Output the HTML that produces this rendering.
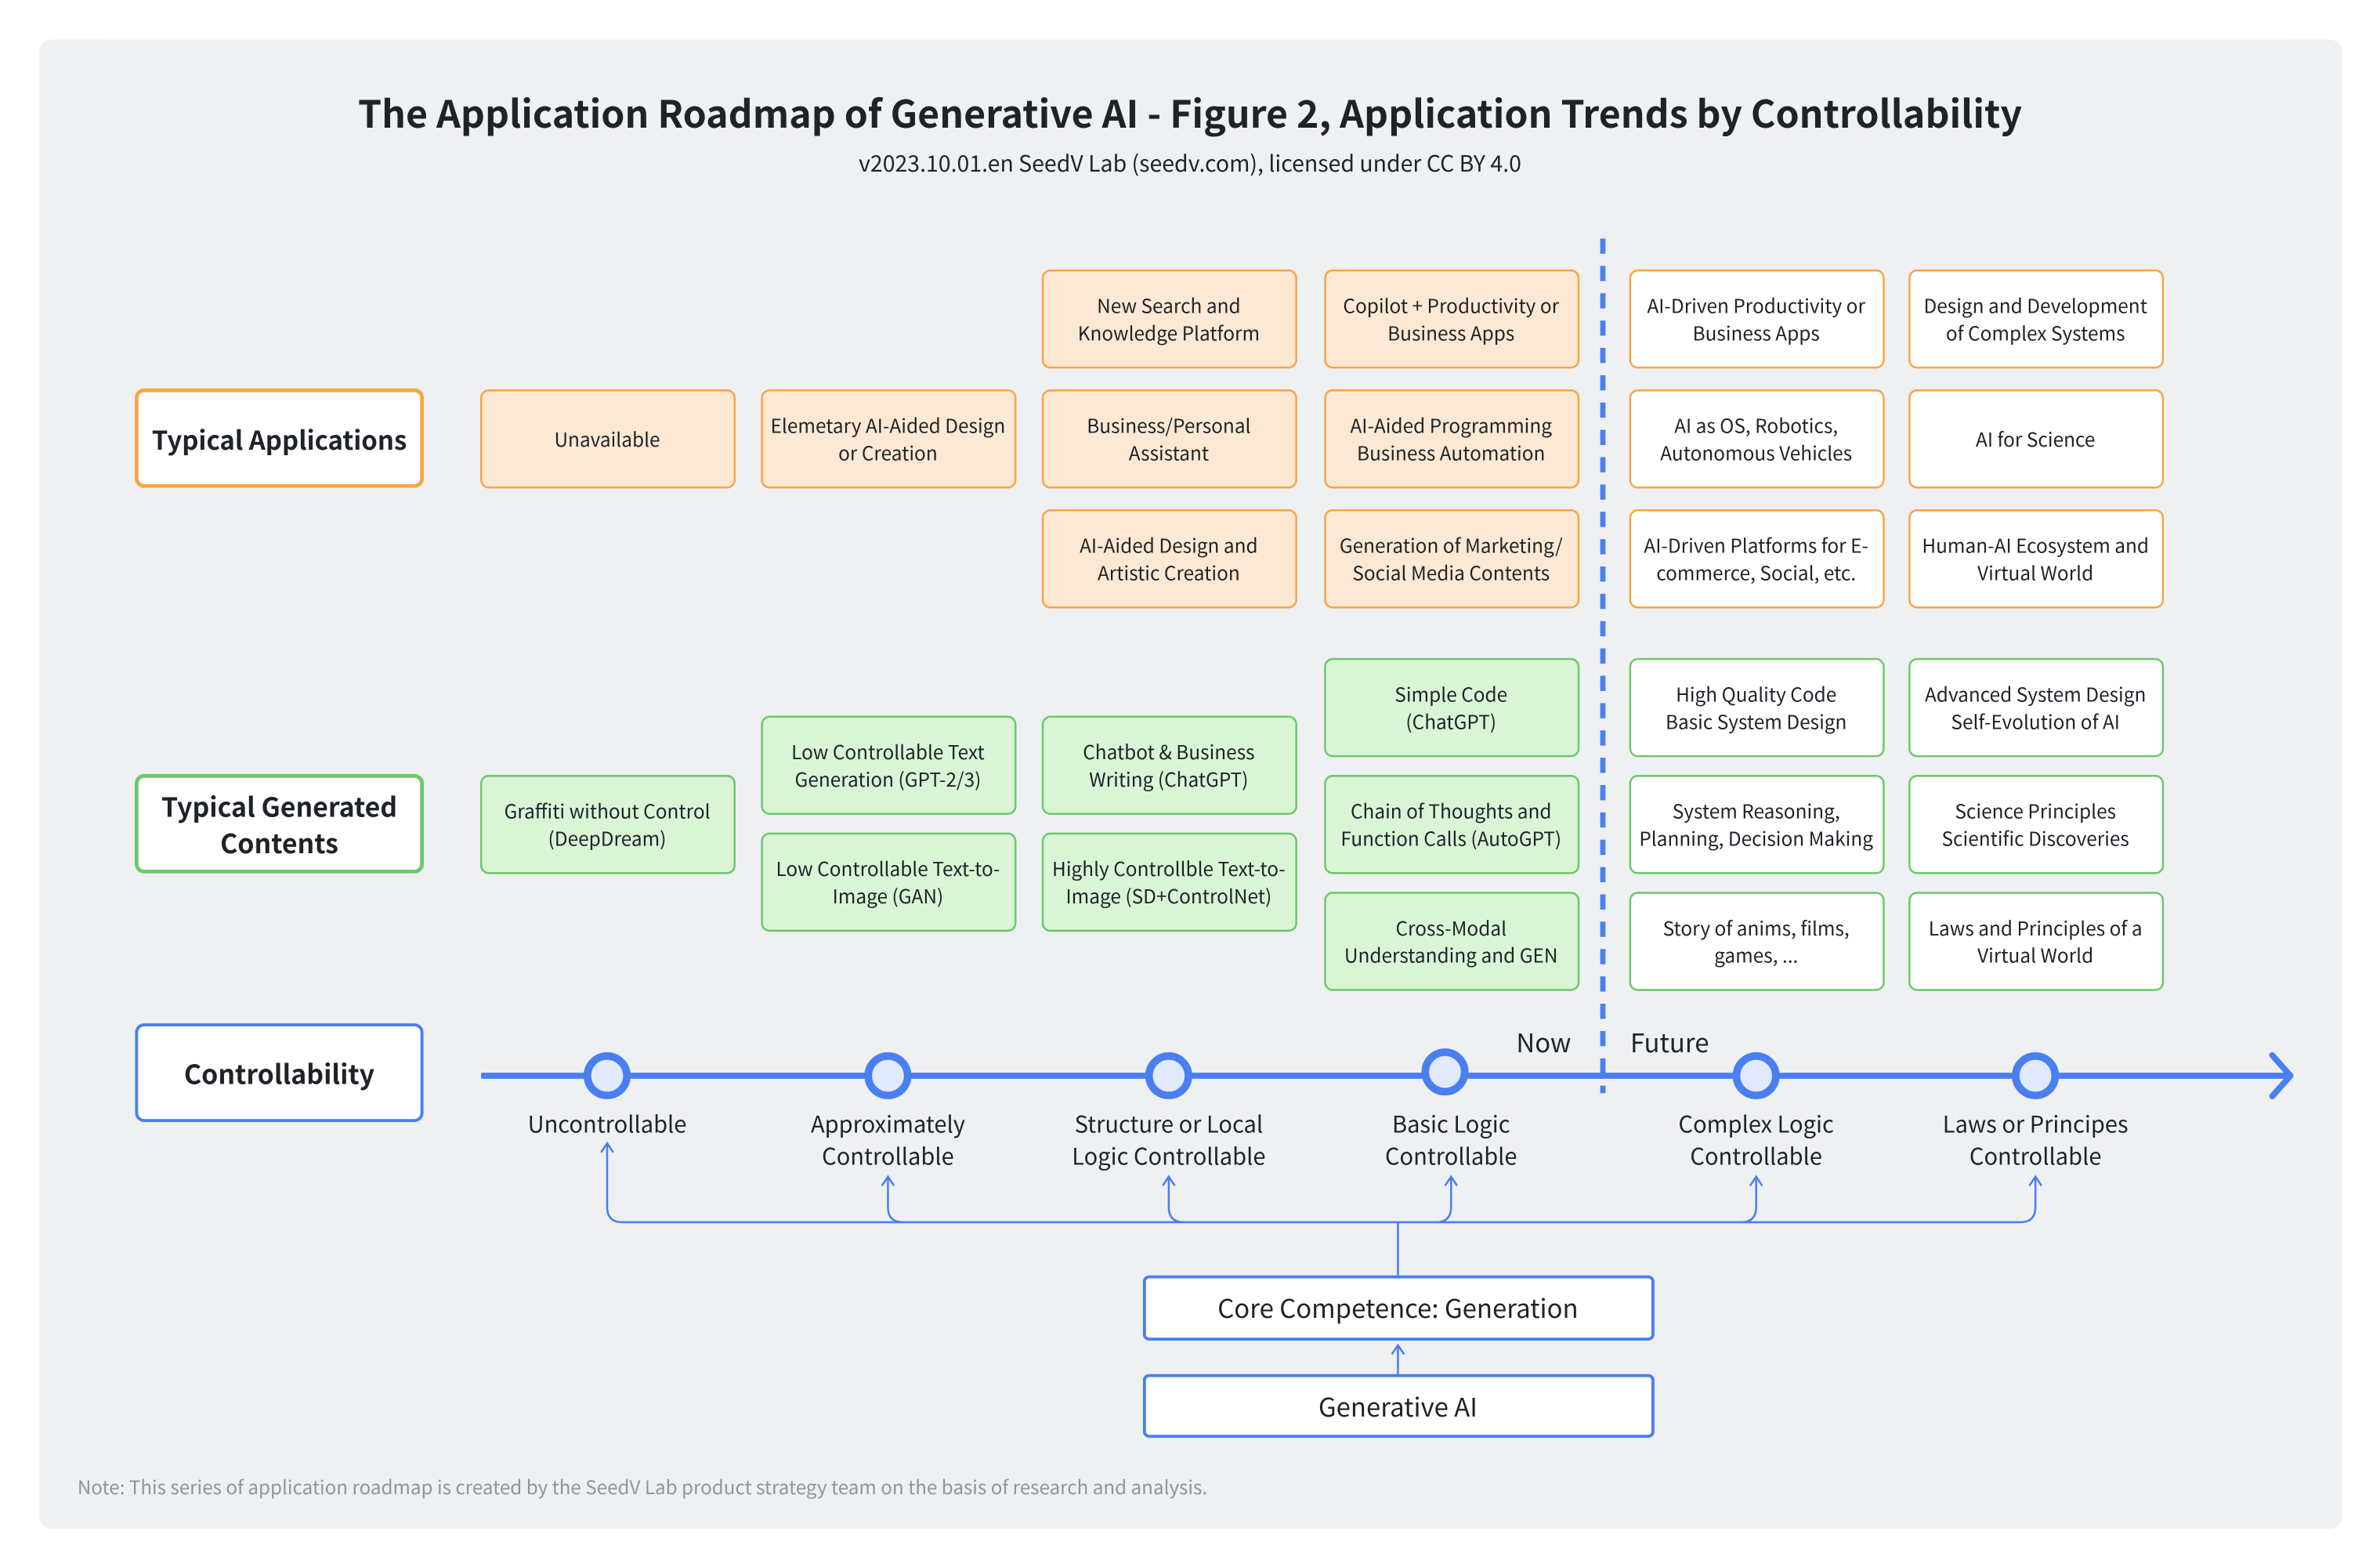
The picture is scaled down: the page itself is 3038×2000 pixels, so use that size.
<!DOCTYPE html>
<html><head><meta charset="utf-8"><style>
html,body{margin:0;padding:0;background:#fff}
svg{display:block}
text{font-family:"Noto Sans CJK SC","Liberation Sans",sans-serif;fill:#1f2329}
.b{font-size:12.6px;text-anchor:middle}
.l{font-size:15px;text-anchor:middle}
.h{font-size:17.5px;font-weight:bold;text-anchor:middle}
.o{fill:#fde9d3;stroke:#f7a647;stroke-width:1.3}
.ow{fill:#fff;stroke:#f7a647;stroke-width:1.3}
.g{fill:#d9f5d6;stroke:#6cc96c;stroke-width:1.3}
.gw{fill:#fff;stroke:#6cc96c;stroke-width:1.3}
</style></head><body>
<svg width="3038" height="2000" viewBox="0 0 1568 1032" xmlns="http://www.w3.org/2000/svg">
<rect x="0" y="0" width="1568" height="1032" fill="#fff"/>
<rect x="26" y="26" width="1517" height="981" rx="8" fill="#eff0f2"/>
<text x="784" y="84" style="font-size:24.9px;font-weight:bold;text-anchor:middle">The Application Roadmap of Generative AI - Figure 2, Application Trends by Controllability</text>
<text x="784" y="113" style="font-size:14.7px;text-anchor:middle">v2023.10.01.en SeedV Lab (seedv.com), licensed under CC BY 4.0</text>

<rect x="90" y="257" width="188" height="63" rx="5" fill="#fff" stroke="#f7a647" stroke-width="2.5"/>
<text class="h" x="184" y="296" style="font-size:17px">Typical Applications</text>
<rect x="90" y="511" width="188" height="63" rx="5" fill="#fff" stroke="#6cc96c" stroke-width="2.5"/>
<text class="h" x="184" y="538">Typical Generated</text>
<text class="h" x="184" y="562">Contents</text>
<rect x="90" y="675" width="188" height="63" rx="5" fill="#fff" stroke="#4a7ff2" stroke-width="2"/>
<text class="h" x="184" y="714">Controllability</text>

<rect class="o" x="317" y="257" width="167" height="64" rx="5"/><text class="b" x="400" y="294">Unavailable</text>
<rect class="o" x="502" y="257" width="167" height="64" rx="5"/><text class="b" x="585" y="285">Elemetary AI-Aided Design</text><text class="b" x="585" y="303">or Creation</text>

<rect class="o" x="687" y="178" width="167" height="64" rx="5"/><text class="b" x="770" y="206">New Search and</text><text class="b" x="770" y="224">Knowledge Platform</text>
<rect class="o" x="687" y="257" width="167" height="64" rx="5"/><text class="b" x="770" y="285">Business/Personal</text><text class="b" x="770" y="303">Assistant</text>
<rect class="o" x="687" y="336" width="167" height="64" rx="5"/><text class="b" x="770" y="364">AI-Aided Design and</text><text class="b" x="770" y="382">Artistic Creation</text>

<rect class="o" x="873" y="178" width="167" height="64" rx="5"/><text class="b" x="956" y="206">Copilot + Productivity or</text><text class="b" x="956" y="224">Business  Apps</text>
<rect class="o" x="873" y="257" width="167" height="64" rx="5"/><text class="b" x="956" y="285">AI-Aided Programming</text><text class="b" x="956" y="303">Business Automation</text>
<rect class="o" x="873" y="336" width="167" height="64" rx="5"/><text class="b" x="956" y="364">Generation of Marketing/</text><text class="b" x="956" y="382">Social Media Contents</text>

<rect class="ow" x="1074" y="178" width="167" height="64" rx="5"/><text class="b" x="1157" y="206">AI-Driven Productivity or</text><text class="b" x="1157" y="224">Business Apps</text>
<rect class="ow" x="1074" y="257" width="167" height="64" rx="5"/><text class="b" x="1157" y="285">AI as OS, Robotics,</text><text class="b" x="1157" y="303">Autonomous Vehicles</text>
<rect class="ow" x="1074" y="336" width="167" height="64" rx="5"/><text class="b" x="1157" y="364">AI-Driven Platforms for E-</text><text class="b" x="1157" y="382">commerce, Social, etc.</text>

<rect class="ow" x="1258" y="178" width="167" height="64" rx="5"/><text class="b" x="1341" y="206">Design and Development</text><text class="b" x="1341" y="224">of Complex Systems</text>
<rect class="ow" x="1258" y="257" width="167" height="64" rx="5"/><text class="b" x="1341" y="294">AI for Science</text>
<rect class="ow" x="1258" y="336" width="167" height="64" rx="5"/><text class="b" x="1341" y="364">Human-AI Ecosystem and</text><text class="b" x="1341" y="382">Virtual World</text>

<rect class="g" x="317" y="511" width="167" height="64" rx="5"/><text class="b" x="400" y="539">Graffiti without Control</text><text class="b" x="400" y="557">(DeepDream)</text>
<rect class="g" x="502" y="472" width="167" height="64" rx="5"/><text class="b" x="585" y="500">Low Controllable Text</text><text class="b" x="585" y="518">Generation (GPT-2/3)</text>
<rect class="g" x="502" y="549" width="167" height="64" rx="5"/><text class="b" x="585" y="577">Low Controllable Text-to-</text><text class="b" x="585" y="595">Image (GAN)</text>
<rect class="g" x="687" y="472" width="167" height="64" rx="5"/><text class="b" x="770" y="500">Chatbot &amp; Business</text><text class="b" x="770" y="518">Writing (ChatGPT)</text>
<rect class="g" x="687" y="549" width="167" height="64" rx="5"/><text class="b" x="770" y="577">Highly Controllble Text-to-</text><text class="b" x="770" y="595">Image (SD+ControlNet)</text>

<rect class="g" x="873" y="434" width="167" height="64" rx="5"/><text class="b" x="956" y="462">Simple Code</text><text class="b" x="956" y="480">(ChatGPT)</text>
<rect class="g" x="873" y="511" width="167" height="64" rx="5"/><text class="b" x="956" y="539">Chain of Thoughts and</text><text class="b" x="956" y="557">Function Calls (AutoGPT)</text>
<rect class="g" x="873" y="588" width="167" height="64" rx="5"/><text class="b" x="956" y="616">Cross-Modal</text><text class="b" x="956" y="634">Understanding and GEN</text>

<rect class="gw" x="1074" y="434" width="167" height="64" rx="5"/><text class="b" x="1157" y="462">High Quality Code</text><text class="b" x="1157" y="480">Basic System Design</text>
<rect class="gw" x="1074" y="511" width="167" height="64" rx="5"/><text class="b" x="1157" y="539">System Reasoning,</text><text class="b" x="1157" y="557">Planning, Decision Making</text>
<rect class="gw" x="1074" y="588" width="167" height="64" rx="5"/><text class="b" x="1157" y="616">Story of anims, films,</text><text class="b" x="1157" y="634">games, ...</text>

<rect class="gw" x="1258" y="434" width="167" height="64" rx="5"/><text class="b" x="1341" y="462">Advanced System Design</text><text class="b" x="1341" y="480">Self-Evolution of AI</text>
<rect class="gw" x="1258" y="511" width="167" height="64" rx="5"/><text class="b" x="1341" y="539">Science Principles</text><text class="b" x="1341" y="557">Scientific Discoveries</text>
<rect class="gw" x="1258" y="588" width="167" height="64" rx="5"/><text class="b" x="1341" y="616">Laws and Principles of a</text><text class="b" x="1341" y="634">Virtual World</text>

<line x1="1056" y1="157" x2="1056" y2="720" stroke="#4a7ff2" stroke-width="3.5" stroke-dasharray="10 8"/>
<text x="1017" y="693" style="font-size:17px;text-anchor:middle">Now</text>
<text x="1100" y="693" style="font-size:17px;text-anchor:middle">Future</text>

<line x1="317" y1="708.5" x2="1508" y2="708.5" stroke="#4a7ff2" stroke-width="4"/>
<polyline points="1497,695 1509,708.5 1497,722" fill="none" stroke="#4a7ff2" stroke-width="4" stroke-linecap="round" stroke-linejoin="round"/>
<g fill="#e1eafd" stroke="#4a7ff2" stroke-width="5">
<circle cx="400" cy="708.5" r="13"/><circle cx="585" cy="708.5" r="13"/><circle cx="770" cy="708.5" r="13"/>
<circle cx="952" cy="706" r="13"/><circle cx="1157" cy="708.5" r="13"/><circle cx="1341" cy="708.5" r="13"/>
</g>
<text class="l" x="400" y="746">Uncontrollable</text>
<text class="l" x="585" y="746">Approximately</text><text class="l" x="585" y="767">Controllable</text>
<text class="l" x="770" y="746">Structure or Local</text><text class="l" x="770" y="767">Logic Controllable</text>
<text class="l" x="956" y="746">Basic Logic</text><text class="l" x="956" y="767">Controllable</text>
<text class="l" x="1157" y="746">Complex Logic</text><text class="l" x="1157" y="767">Controllable</text>
<text class="l" x="1341" y="746">Laws or Principes</text><text class="l" x="1341" y="767">Controllable</text>

<g fill="none" stroke="#4a7ff2" stroke-width="1.3">
<path d="M400,753 V795 Q400,805 410,805 H1331 Q1341,805 1341,795 V775"/>
<path d="M585,775 V795 Q585,805 595,805"/>
<path d="M770,775 V795 Q770,805 780,805"/>
<path d="M956,775 V795 Q956,805 946,805"/>
<path d="M1157,775 V795 Q1157,805 1147,805"/>
<path d="M921,805 V840"/>
<path d="M921,905 V886"/>
<polyline points="396,759 400,753 404,759"/>
<polyline points="581,781 585,775 589,781"/>
<polyline points="766,781 770,775 774,781"/>
<polyline points="952,781 956,775 960,781"/>
<polyline points="1153,781 1157,775 1161,781"/>
<polyline points="1337,781 1341,775 1345,781"/>
<polyline points="917,892 921,886 925,892"/>
</g>
<rect x="754" y="841" width="335" height="41" rx="3" fill="#fff" stroke="#4a7ff2" stroke-width="2"/>
<text x="921" y="868" style="font-size:17px;text-anchor:middle">Core Competence: Generation</text>
<rect x="754" y="906" width="335" height="40" rx="3" fill="#fff" stroke="#4a7ff2" stroke-width="2"/>
<text x="921" y="933" style="font-size:17px;text-anchor:middle">Generative AI</text>

<text x="51" y="984" style="font-size:12.5px;fill:#8f959e">Note: This series of application roadmap is created by the SeedV  Lab product strategy team on the basis of research and analysis.</text>
</svg>
</body></html>
